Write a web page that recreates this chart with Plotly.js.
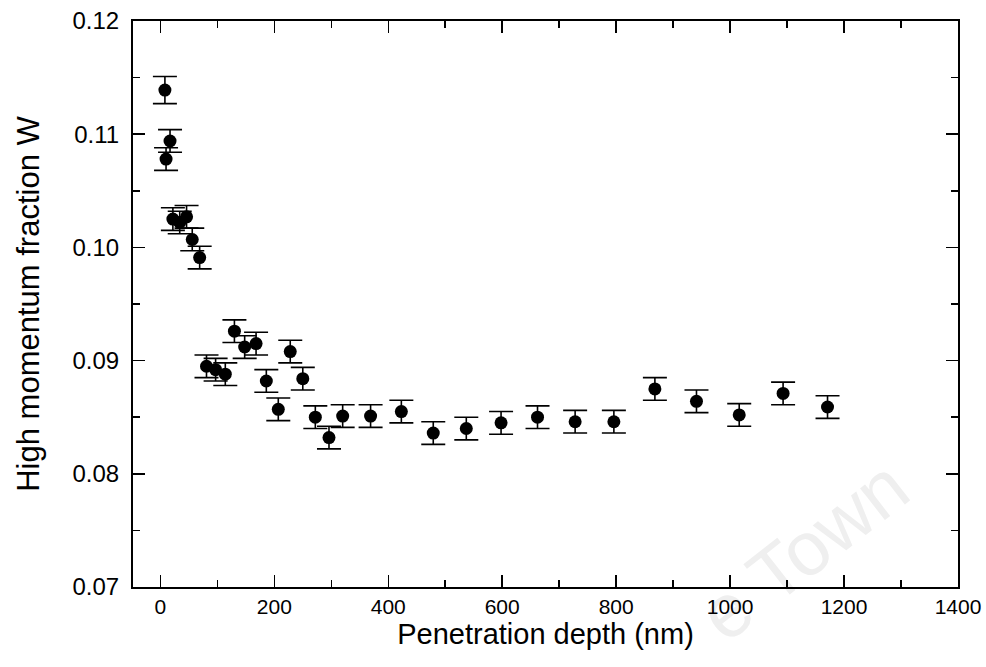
<!DOCTYPE html>
<html>
<head>
<meta charset="utf-8">
<script src="https://cdn.plot.ly/plotly-3.0.1.min.js"></script>
<style>
  html, body { margin: 0; padding: 0; background: #fff; }
  #chart { width: 986px; height: 667px; }
</style>
</head>
<body>
<div id="chart"></div>
<script>
// Penetration depth (nm)
const depth = [8, 10, 17, 22, 34, 46, 56, 69, 81, 97, 114, 130, 148, 168, 186, 207, 228, 250, 272, 296,
               320, 369, 423, 479, 537, 598, 662, 728, 796, 868, 941, 1016, 1093, 1171];
// High momentum fraction W
const wValue = [0.1139, 0.1078, 0.1094, 0.1025, 0.1022, 0.1027, 0.1007, 0.0991, 0.0895, 0.0892,
                0.0888, 0.0926, 0.0912, 0.0915, 0.0882, 0.0857, 0.0908, 0.0884, 0.0850, 0.0832,
                0.0851, 0.0851, 0.0855, 0.0836, 0.0840, 0.0845, 0.0850, 0.0846, 0.0846, 0.0875,
                0.0864, 0.0852, 0.0871, 0.0859];
// Error bar half-widths
const wError = [0.0012, 0.0010, 0.0010, 0.0010, 0.0010, 0.0010, 0.0010, 0.0010, 0.0010, 0.0010,
                0.0010, 0.0010, 0.0010, 0.0010, 0.0010, 0.0010, 0.0010, 0.0010, 0.0010, 0.0010,
                0.0010, 0.0010, 0.0010, 0.0010, 0.0010, 0.0010, 0.0010, 0.0010, 0.0010, 0.0010,
                0.0010, 0.0010, 0.0010, 0.0010];

const xTickVals = [0, 200, 400, 600, 800, 1000, 1200, 1400];
const yTickVals = [0.07, 0.08, 0.09, 0.10, 0.11, 0.12];
const watermarkText = 'e Town';

const trace = {
  x: depth,
  y: wValue,
  type: 'scatter',
  mode: 'markers',
  marker: { color: '#000', size: 13, symbol: 'circle' },
  error_y: { type: 'data', array: wError, visible: true, color: '#000', thickness: 1.6, width: 12 },
  hoverinfo: 'x+y'
};

const font = "Liberation Sans, Arial, Helvetica, sans-serif";

const layout = {
  width: 986,
  height: 667,
  margin: { l: 133, r: 28, t: 21, b: 80 },
  paper_bgcolor: '#fff',
  plot_bgcolor: 'rgba(0,0,0,0)',
  showlegend: false,
  font: { family: font, color: '#000', size: 21 },
  xaxis: {
    range: [-48, 1400],
    tickvals: xTickVals,
    ticks: 'inside',
    ticklen: 12,
    tickwidth: 1.5,
    tickcolor: '#000',
    showline: true,
    linecolor: '#000',
    linewidth: 2,
    mirror: 'allticks',
    showgrid: false,
    zeroline: false,
    tickfont: { family: font, size: 21, color: '#000' },
    minor: { dtick: 100, tick0: 0, ticks: 'inside', ticklen: 7, tickwidth: 1.5, tickcolor: '#000', showgrid: false },
    title: { text: 'Penetration depth (nm)', font: { family: font, size: 29, color: '#000' }, standoff: 6 }
  },
  yaxis: {
    range: [0.07, 0.12],
    tickvals: yTickVals,
    tickformat: '.2f',
    ticks: 'inside',
    ticklen: 12,
    tickwidth: 1.5,
    tickcolor: '#000',
    showline: true,
    linecolor: '#000',
    linewidth: 2,
    mirror: 'allticks',
    showgrid: false,
    zeroline: false,
    ticklabelstandoff: 7,
    tickfont: { family: font, size: 24, color: '#000' },
    minor: { dtick: 0.005, tick0: 0.07, ticks: 'inside', ticklen: 7, tickwidth: 1.5, tickcolor: '#000', showgrid: false },
    title: { text: 'High momentum fraction W', font: { family: font, size: 31, color: '#000' }, standoff: 24 }
  },
  shapes: [
    {
      type: 'rect', xref: 'paper', yref: 'paper',
      x0: 0.78, x1: 0.835, y0: 0.05, y1: 0.10,
      line: { width: 0 }, fillcolor: 'rgba(0,0,0,0)', layer: 'below',
      label: {
        text: watermarkText, textposition: 'middle center', textangle: -38,
        font: { family: font, size: 76, color: '#efefef' }
      }
    }
  ]
};

Plotly.newPlot('chart', [trace], layout, { displayModeBar: false, staticPlot: true });
</script>
</body>
</html>
